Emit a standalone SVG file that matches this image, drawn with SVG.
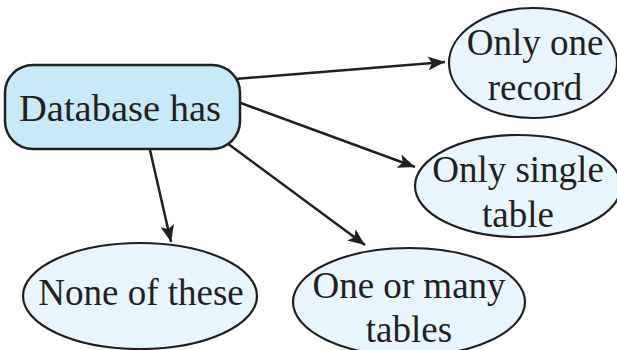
<svg xmlns="http://www.w3.org/2000/svg" width="617" height="350" viewBox="0 0 617 350">
<style>
.box{fill:#c8e9f8;stroke:#231f20;stroke-width:2.5}
.ell{fill:#e8f5fc;stroke:#231f20;stroke-width:2.2}
.t{font-size:37px;fill:#231f20;text-anchor:middle}
.c{stroke:#231f20;stroke-width:2.5;fill:none;marker-end:url(#ah)}
</style>
<defs>
<marker id="ah" markerUnits="userSpaceOnUse" markerWidth="18" markerHeight="14" refX="17" refY="7" orient="auto">
<path d="M0,0 L17,7 L0,14 L4,7 Z" fill="#231f20"/>
</marker>
</defs>
<rect width="617" height="350" fill="#fff"/>
<g id="connectors">
<line class="c" x1="235" y1="79" x2="445" y2="62"/>
<line class="c" x1="238" y1="102" x2="415" y2="167"/>
<line class="c" x1="150" y1="150" x2="171" y2="242"/>
<line class="c" x1="227" y1="143" x2="365" y2="245"/>
</g>
<g font-family="'Liberation Serif', 'Times New Roman', 'DejaVu Serif', serif">
<g id="database">
<rect class="box" x="5" y="65" width="235" height="84" rx="28" ry="28"/>
<text class="t" x="120" y="121" style="font-size:38.5px">Database has</text>
</g>
<g id="one-record">
<ellipse class="ell" cx="533" cy="63" rx="84" ry="55"/>
<text class="t" x="535" y="55">Only one</text>
<text class="t" x="535" y="100">record</text>
</g>
<g id="single-table">
<ellipse class="ell" cx="518" cy="186" rx="103" ry="51"/>
<text class="t" x="518" y="182">Only single</text>
<text class="t" x="518" y="227">table</text>
</g>
<g id="none">
<ellipse class="ell" cx="140" cy="296" rx="117" ry="53"/>
<text class="t" x="141" y="305">None of these</text>
</g>
<g id="many-tables">
<ellipse class="ell" cx="409" cy="302" rx="116" ry="54"/>
<text class="t" x="409" y="298">One or many</text>
<text class="t" x="409" y="342">tables</text>
</g>
</g>
</svg>
